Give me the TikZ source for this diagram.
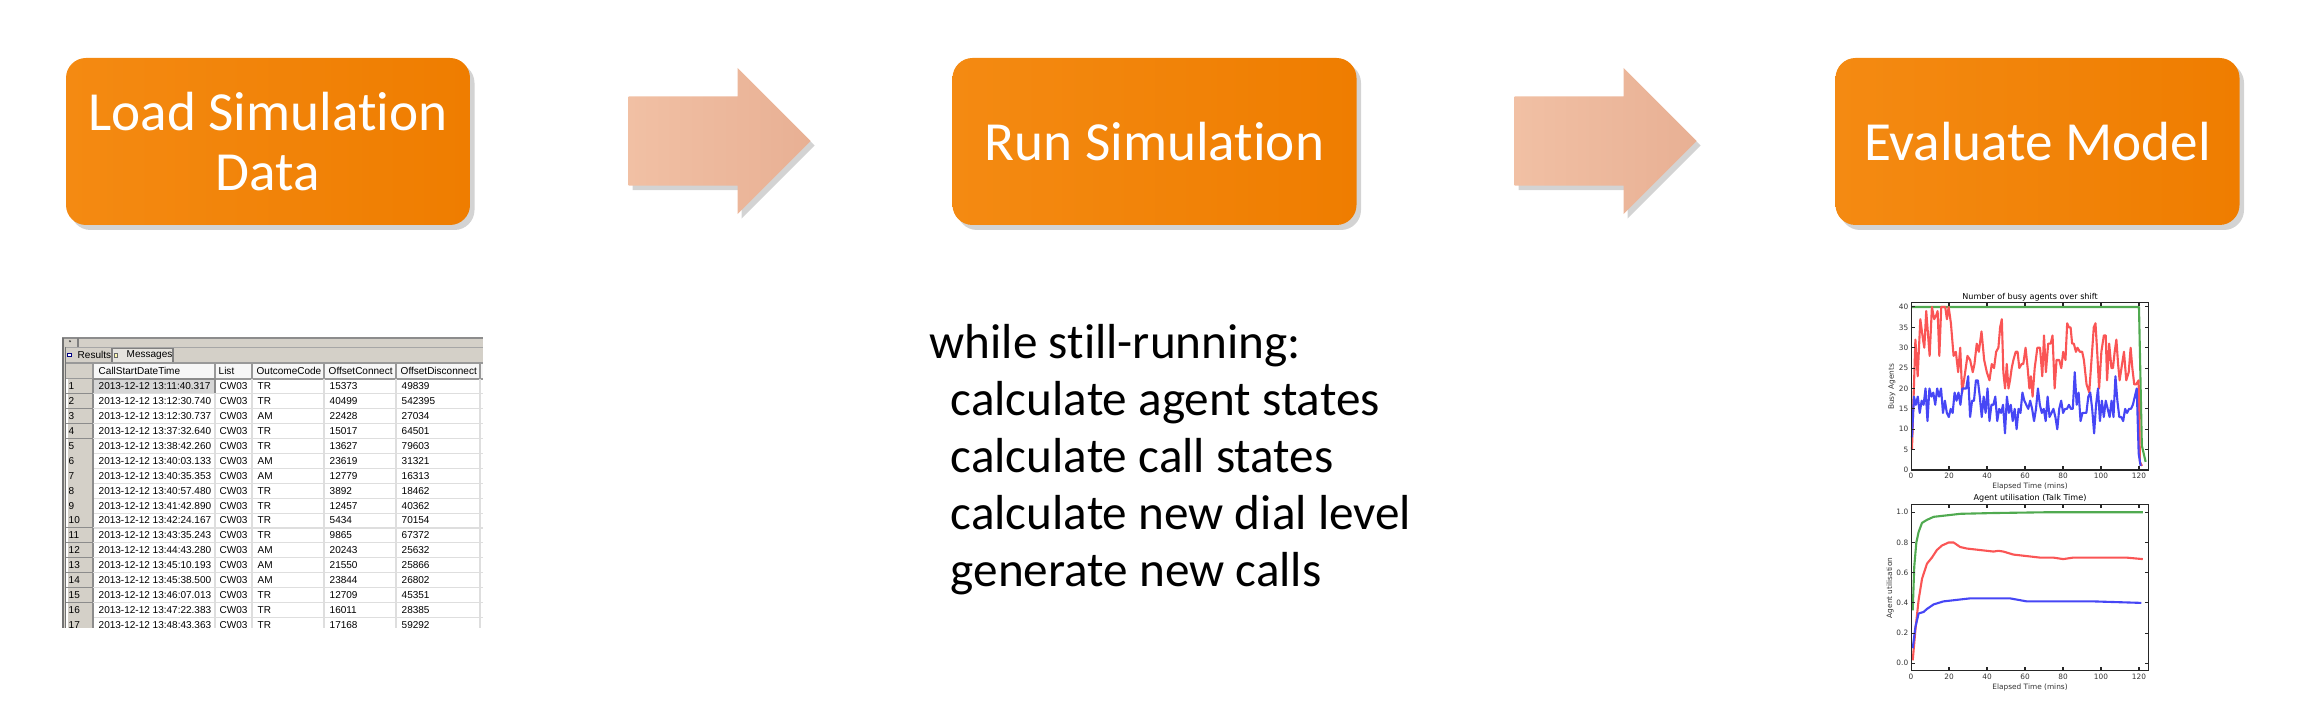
\documentclass[tikz,border=0pt]{standalone}
\usepackage{fontspec}
\setmainfont{Carlito}[Ligatures={NoCommon}]
\newfontfamily\gridfont{Liberation Sans}
\newfontfamily\plotfont{DejaVu Sans}
\usetikzlibrary{shapes.arrows,shadows,positioning}

\definecolor{orangeL}{RGB}{244,138,18}
\definecolor{orangeR}{RGB}{239,125,0}
\definecolor{salmonL}{RGB}{241,192,164}
\definecolor{salmonR}{RGB}{232,176,148}
\definecolor{winGrey}{RGB}{212,208,200}
\definecolor{gridGrey}{RGB}{222,222,222}
\definecolor{plotRed}{RGB}{250,85,85}
\definecolor{plotBlue}{RGB}{70,70,245}
\definecolor{plotGreen}{RGB}{80,170,80}

\begin{document}
\begin{tikzpicture}[
    stepbox/.style={rectangle, rounded corners=2mm, minimum width=4.04cm, minimum height=1.67cm,
        left color=orangeL, right color=orangeR, text=white, align=center,
        font=\fontsize{15.7}{17.1}\selectfont,
        drop shadow={shadow xshift=0.045cm, shadow yshift=-0.05cm, opacity=0.35}},
    flowarrow/.style={single arrow, anchor=tail, minimum height=1.82cm, inner xsep=0pt, inner ysep=0.44cm,
        single arrow head extend=0.285cm, single arrow tip angle=90,
        left color=salmonL, right color=salmonR,
        drop shadow={shadow xshift=0.04cm, shadow yshift=-0.045cm, opacity=0.35}},
    codeline/.style={anchor=base west, inner sep=0pt, font=\fontsize{14}{16.5}\selectfont},
    gridtext/.style={anchor=west, inner sep=0pt, font=\gridfont\fontsize{2.85}{3.4}\selectfont},
    plotline/.style={line width=0.6pt, line join=round},
    axisbox/.style={line width=0.3pt, black!85},
    ticklabel/.style={inner sep=0.6pt, font=\plotfont\fontsize{2.1}{2.5}\selectfont, text=black!80},
    plottitle/.style={inner sep=0pt, font=\plotfont\fontsize{2.3}{2.8}\selectfont},
]
\useasboundingbox (0,0) rectangle (23.04,-7.08);

% the three stages
\node[stepbox] (load) at (2.68,-1.415) {Load Simulation\\Data};
\node[stepbox] (run) at (11.545,-1.415) {Run Simulation};
\node[stepbox] (eval) at (20.375,-1.415) {Evaluate Model};

\node[flowarrow] (arr1) at (6.28,-1.41) {};
\node[flowarrow] (arr2) at (15.14,-1.41) {};

% simulation loop
\node[codeline] (loop0) at (9.29,-3.59) {while still-running:};
\node[codeline] (loop1) at (9.50,-4.16) {calculate agent states};
\node[codeline] (loop2) at (9.50,-4.73) {calculate call states};
\node[codeline] (loop3) at (9.50,-5.30) {calculate new dial level};
\node[codeline] (loop4) at (9.50,-5.87) {generate new calls};

% query result grid
\begin{scope}
  \clip (0.62,-3.37) rectangle (4.83,-6.28);
  \fill[white] (0.62,-3.37) rectangle (4.83,-6.30);
  \fill[winGrey] (0.62,-3.38) rectangle (4.83,-3.63);
  \fill[winGrey] (0.62,-3.38) rectangle (0.66,-6.30);
  \draw[black!45, line width=0.3pt] (0.62,-3.38) -- (4.83,-3.38);
  \draw[black!55, line width=0.3pt] (0.63,-3.38) -- (0.63,-6.30) (0.655,-3.47) -- (0.655,-6.30);
  \draw[black!50, line width=0.3pt] (0.78,-3.38) -- (0.78,-3.47);
  \draw[black!70, line width=0.4pt] (0.695,-3.405) -- (0.705,-3.42);
  \draw[black!35, line width=0.2pt] (0.66,-3.47) -- (4.83,-3.47);
  % tabs
  \draw[black!50, line width=0.3pt, fill=winGrey!60!white] (1.12,-3.63) -- (1.12,-3.485) -- (1.73,-3.485) -- (1.73,-3.63);
  \draw[blue!50!black, line width=0.25pt, fill=white] (0.675,-3.53) rectangle (0.715,-3.565);
  \draw[black!60, line width=0.2pt, fill=yellow!30] (1.14,-3.53) rectangle (1.175,-3.575);
  \node[gridtext] (tabres) at (0.77,-3.55) {Results};
  \node[gridtext] (tabmsg) at (1.26,-3.555) {Messages};
  % header
  \fill[black!3] (0.93,-3.63) rectangle (4.83,-3.79);
  \fill[winGrey] (0.66,-3.63) rectangle (0.93,-3.79);
  \draw[black!40, line width=0.3pt] (0.66,-3.63) -- (4.83,-3.63) (0.66,-3.79) -- (4.83,-3.79);
  \foreach \x in {0.93,2.15,2.52,3.24,3.96,4.80}
    \draw[black!40, line width=0.3pt] (\x,-3.63) -- (\x,-3.79);
  \node[gridtext] (hTime) at (0.98,-3.71) {CallStartDateTime};
  \node[gridtext] (hList) at (2.18,-3.71) {List};
  \node[gridtext] (hCode) at (2.56,-3.71) {OutcomeCode};
  \node[gridtext] (hConn) at (3.28,-3.71) {OffsetConnect};
  \node[gridtext] (hDisc) at (4.00,-3.71) {OffsetDisconnect};
  % column lines
  \foreach \x in {2.15,2.52,3.24,3.96,4.80}
    \draw[gridGrey, line width=0.3pt] (\x,-3.79) -- (\x,-6.30);
  % selected cell
  \draw[black!45, line width=0.3pt, fill=black!16] (0.935,-3.79) rectangle (2.15,-3.939);
  % rows
  \foreach \tm/\oc/\con/\dis [count=\i] in {
      13:11:40.317/TR/15373/49839,
      13:12:30.740/TR/40499/542395,
      13:12:30.737/AM/22428/27034,
      13:37:32.640/TR/15017/64501,
      13:38:42.260/TR/13627/79603,
      13:40:03.133/AM/23619/31321,
      13:40:35.353/AM/12779/16313,
      13:40:57.480/TR/3892/18462,
      13:41:42.890/TR/12457/40362,
      13:42:24.167/TR/5434/70154,
      13:43:35.243/TR/9865/67372,
      13:44:43.280/AM/20243/25632,
      13:45:10.193/AM/21550/25866,
      13:45:38.500/AM/23844/26802,
      13:46:07.013/TR/12709/45351,
      13:47:22.383/TR/16011/28385,
      13:48:43.363/TR/17168/59292} {
    \pgfmathsetmacro\rowtop{-3.79-0.149*(\i-1)}
    \pgfmathsetmacro\rowmid{\rowtop-0.0745}
    \pgfmathsetmacro\rowbot{\rowtop-0.149}
    \fill[winGrey] (0.66,\rowtop) rectangle (0.93,\rowbot);
    \draw[white, line width=0.3pt] (0.67,\rowbot) -- (0.67,\rowtop);
    \draw[black!45, line width=0.3pt] (0.66,\rowbot) -- (0.93,\rowbot) -- (0.93,\rowtop);
    \draw[gridGrey, line width=0.3pt] (0.93,\rowbot) -- (4.83,\rowbot);
    \node[gridtext] (num\i) at (0.68,\rowmid) {\i};
    \node[gridtext] (time\i) at (0.98,\rowmid) {2013-12-12 \tm};
    \node[gridtext] (list\i) at (2.19,\rowmid) {CW03};
    \node[gridtext] (code\i) at (2.57,\rowmid) {\oc};
    \node[gridtext] (conn\i) at (3.29,\rowmid) {\con};
    \node[gridtext] (disc\i) at (4.01,\rowmid) {\dis};
  }
\end{scope}

% busy agents chart
\begin{scope}[shift={(19.11,-4.70)}, x=0.019cm, y=0.04075cm]
  \draw[plotGreen, plotline] (0.3,40) -- (120,40) -- (121.5,6) -- (123.5,2);
  \draw[plotRed, plotline] plot coordinates {
    (0.5,5) (2.3,32) (3.5,23) (4.9,37) (6.3,32) (7.0,30) (8.0,39) (9.8,28) (11.0,40) (12.2,37)
    (13.3,38) (14.0,39) (14.9,28) (15.9,40) (18.0,40) (18.9,37) (19.8,40) (21.0,36) (22.4,28)
    (23.6,29) (24.8,24) (25.9,30) (26.9,19) (28.2,23) (29.7,28) (31.1,27) (32.5,24) (33.4,26)
    (34.6,31) (35.7,29) (37.1,34) (38.5,27) (39.9,24) (41.3,22) (42.5,26) (43.7,25) (44.8,29)
    (46.0,30) (46.9,35) (47.8,37) (48.6,24) (49.5,20) (50.4,26) (51.3,20) (52.1,22) (53.0,25)
    (53.9,27) (55.1,29) (56.1,29) (57.0,25) (58.2,26) (59.1,26) (60.3,30) (61.4,25) (62.3,20)
    (63.1,23) (64.0,18) (65.1,25) (66.5,30) (67.9,30) (69.1,23) (70.0,33) (71.0,24) (72.2,31)
    (73.5,31) (74.5,33) (75.6,20) (76.6,27) (78.0,27) (79.1,25) (80.1,29) (81.3,27) (82.2,36)
    (83.1,35) (84.0,35) (84.8,31) (85.7,31) (86.8,29) (87.6,30) (88.9,29) (90.1,29) (91.0,27)
    (92.4,21) (93.8,19) (95.0,27) (96.2,35) (97.1,36) (98.0,29) (99.0,20) (100.2,29) (101.5,33)
    (102.5,33) (103.2,22) (104.3,31) (105.5,25) (106.3,25) (107.2,29) (108.1,32) (109.0,26)
    (109.8,22) (111.1,26) (112.1,29) (113.3,22) (114.6,24) (115.6,30) (116.5,25) (117.5,21)
    (118.5,21) (119.8,22) (120.5,2) (121.6,1)};
  \draw[plotBlue, plotline] (0.5,8) \foreach \v [count=\k] in {
    18,16,18,14,17,16,20,12,20,18,19,16,20,18,20,14,17,14,13,
    15,14,19,17,19,16,20,20,20,23,13,17,17,22,22,18,13,18,14,20,
    12,16,16,18,12,15,14,16,9,18,14,16,12,15,10,15,14,19,17,16,
    15,17,15,12,15,20,16,14,15,12,18,13,14,15,13,10,15,17,14,15,
    15,16,15,15,24,16,19,12,14,14,14,18,19,15,9,16,20,12,17,13,
    17,15,13,17,13,23,17,13,13,12,15,14,15,15,16,18,20,4,1} { -- ({0.5+\k*1.02},\v) };
  \draw[axisbox] (0,0) rectangle (125,41);
  \foreach \v [count=\i] in {0,5,...,40} {
    \draw[axisbox] (0,\v) -- ++(0.035cm,0pt) (125,\v) -- ++(-0.035cm,0pt);
    \node[ticklabel, anchor=east] (ytA\i) at (0,\v) {\v};
  }
  \foreach \t [count=\i] in {0,20,...,120} {
    \draw[axisbox] (\t,0) -- ++(0pt,0.035cm) (\t,41) -- ++(0pt,-0.035cm);
    \node[ticklabel, anchor=north] (xtA\i) at (\t,0) {\t};
  }
\end{scope}
\node[plottitle] (titleA) at (20.30,-2.97) {Number of busy agents over shift};
\node[ticklabel] (xlabA) at (20.30,-4.86) {Elapsed Time (mins)};
\node[ticklabel, rotate=90] (ylabA) at (18.92,-3.87) {Busy Agents};

% utilisation chart
\begin{scope}[shift={(19.11,-6.633)}, x=0.019cm, y=1.51cm]
  \draw[plotGreen, plotline] plot coordinates {
    (0.9,0.35) (1.7,0.64) (2.8,0.80) (4,0.87) (5.8,0.93) (8.4,0.95) (11.9,0.97) (19,0.98)
    (26,0.99) (43,0.995) (70,1.0) (122,1.0)};
  \draw[plotRed, plotline] plot coordinates {
    (0.9,0.02) (2.3,0.22) (4,0.42) (5.8,0.56) (8.4,0.66) (11,0.70) (13.6,0.75) (16.3,0.78)
    (19.8,0.80) (22.4,0.80) (25.9,0.77) (29.4,0.76) (36.4,0.75) (43.4,0.74) (46,0.745) (48.6,0.74)
    (53.9,0.72) (60.9,0.71) (67.9,0.70) (74.9,0.70) (80.1,0.69) (85.4,0.70) (95.9,0.70)
    (106.4,0.70) (113.3,0.70) (122,0.69)};
  \draw[plotBlue, plotline] plot coordinates {
    (0.9,0.10) (2.3,0.24) (4,0.33) (6.6,0.34) (8.4,0.36) (11.9,0.39) (17.1,0.41) (24.1,0.42)
    (31.1,0.43) (43.4,0.43) (52.1,0.43) (60.9,0.41) (78.4,0.41) (95.9,0.41) (121.2,0.40)};
  \draw[axisbox] (0,-0.05) rectangle (125,1.05);
  \foreach \v [count=\i] in {0.0,0.2,0.4,0.6,0.8,1.0} {
    \draw[axisbox] (0,\v) -- ++(0.035cm,0pt) (125,\v) -- ++(-0.035cm,0pt);
    \node[ticklabel, anchor=east] (ytB\i) at (0,\v) {\v};
  }
  \foreach \t [count=\i] in {0,20,...,120} {
    \draw[axisbox] (\t,-0.05) -- ++(0pt,0.035cm) (\t,1.05) -- ++(0pt,-0.035cm);
    \node[ticklabel, anchor=north] (xtB\i) at (\t,-0.05) {\t};
  }
\end{scope}
\node[plottitle] (titleB) at (20.30,-4.98) {Agent utilisation (Talk Time)};
\node[ticklabel] (xlabB) at (20.30,-6.87) {Elapsed Time (mins)};
\node[ticklabel, rotate=90] (ylabB) at (18.90,-5.88) {Agent utilisation};
\end{tikzpicture}
\end{document}
